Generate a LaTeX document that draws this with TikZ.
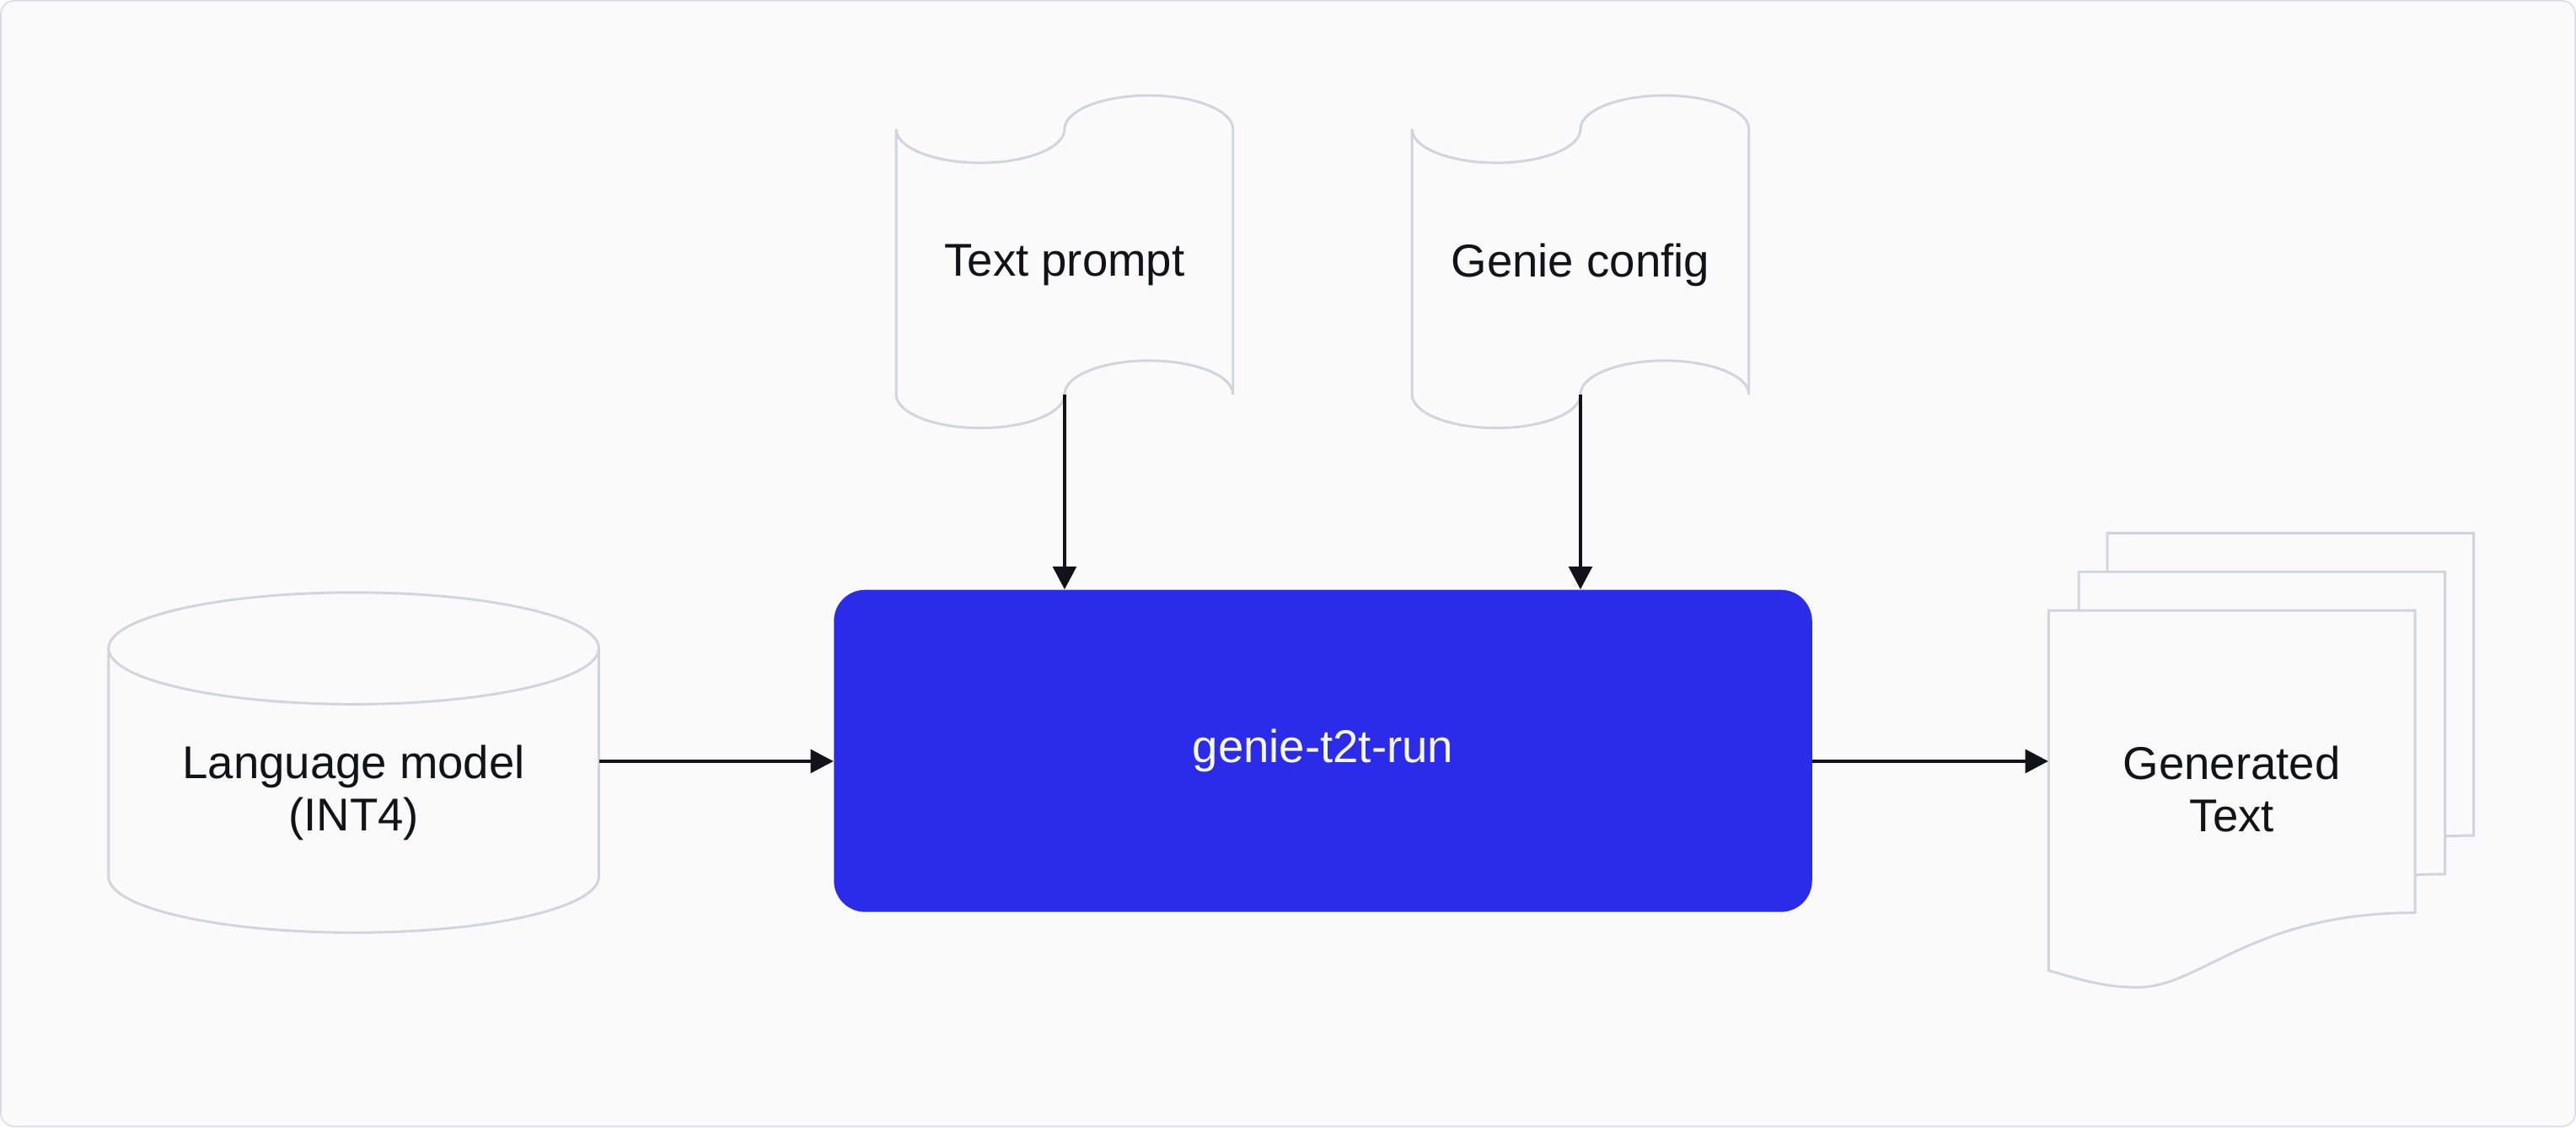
\documentclass[tikz,border=0pt]{standalone}
\usepackage{fontspec}
\setmainfont{Liberation Sans}
\usetikzlibrary{arrows.meta}
\definecolor{pagebg}{HTML}{FAFAFA}
\definecolor{framegray}{HTML}{D9DAEA}
\definecolor{shapegray}{HTML}{D0D4E1}
\definecolor{runblue}{HTML}{2B2CEA}
\definecolor{ink}{HTML}{12131A}
\definecolor{runtext}{HTML}{F6F7FB}
\begin{document}
\begin{tikzpicture}[x=1pt, y=1pt,
	outline/.style={line width=1.5pt, draw=shapegray, fill=pagebg},
	lbl/.style={text=ink, font=\fontsize{28}{32}\selectfont, align=center},
	flow/.style={line width=2.5pt, draw=ink, -{Triangle[length=14pt, width=14pt]}}]
	% FRAME
	\useasboundingbox (0,0) rectangle (1568,686);
	\draw[line width=0.8pt, draw=framegray, fill=pagebg, rounded corners=8pt] (0.5,0.5) rectangle (1567.5,685.5);
	% LANGUAGE MODEL CYLINDER
	\filldraw[outline] (66.1,291.4) -- (66.1,152.4) arc[start angle=180, end angle=360, x radius=149.2, y radius=34] -- (364.5,291.4);
	\draw[outline] (215.3,291.4) ellipse[x radius=149.2, y radius=34];
	% TAPES
	\foreach \tx in {545.5, 859.5} {
		\filldraw[outline] (\tx,446) -- (\tx,607.4) arc[start angle=180, end angle=360, x radius=51.25, y radius=20.5] arc[start angle=180, end angle=0, x radius=51.25, y radius=20.5] -- ++(0,-161.4) arc[start angle=0, end angle=180, x radius=51.25, y radius=20.5] arc[start angle=0, end angle=-180, x radius=51.25, y radius=20.5] -- cycle;
	}
	% GENERATED DOCUMENTS
	\foreach \dx/\dy in {35.7/47, 18.3/23.5, 0/0} {
		\filldraw[outline, shift={(\dx,\dy)}] (1247,314.5) -- (1470,314.5) -- (1470,130.5) .. controls (1370,130.5) and (1340,85.1) .. (1301,85.1) .. controls (1280,85.1) and (1265,90.3) .. (1247,95.3) -- cycle;
	}
	% NODES
	\node (model) at (215.3,203.5) [lbl, minimum width=298.4] {Language model\\(INT4)};
	\node (run) at (805.3,229) [fill=runblue, rounded corners=19pt, minimum width=595.4, minimum height=196, text=runtext, font=\fontsize{28}{32}\selectfont] {\raisebox{-2pt}{genie-t2t-run}};
	\node (prompt) at (648,524.5) [lbl, minimum height=157] {Text prompt};
	\node (config) at (962,524.5) [lbl, minimum height=157] {Genie config};
	\node (gen) at (1358.5,205.6) [lbl, minimum width=223] {Generated\\Text};
	% ARROWS
	\coordinate (lane) at (0,222.7);
	\draw[flow] (prompt.south) -- (prompt.south |- run.north);
	\draw[flow] (config.south) -- (config.south |- run.north);
	\draw[flow] (model.east |- lane) -- (run.west |- lane);
	\draw[flow] (run.east |- lane) -- (gen.west |- lane);
\end{tikzpicture}
\end{document}
